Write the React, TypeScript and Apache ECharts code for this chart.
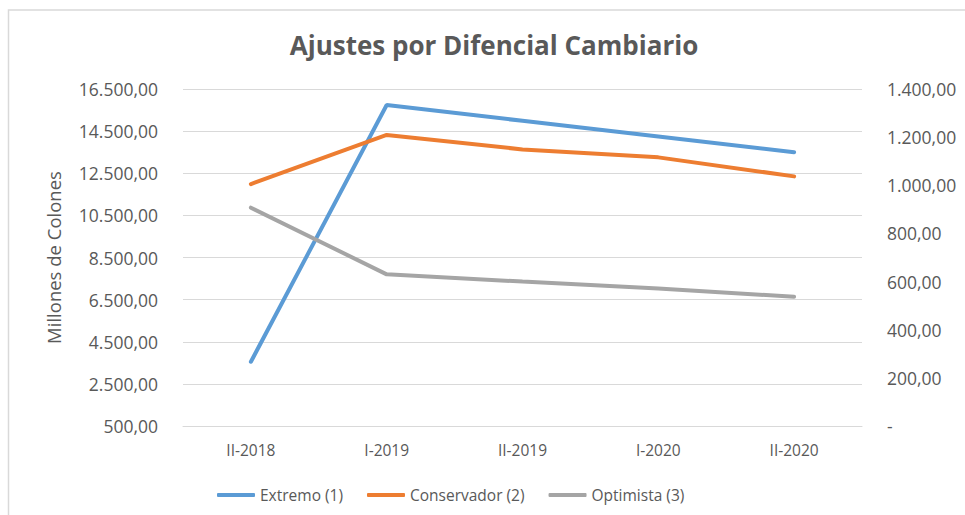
import React, { useEffect, useRef } from "react";
import * as echarts from "echarts";

const categories = ["II-2018", "I-2019", "II-2019", "I-2020", "II-2020"];
const extremo = [3550, 15740, 14990, 14240, 13500];
const conservador = [1005, 1209, 1149, 1116, 1037];
const optimista = [907, 630, 600, 571, 537];
const seriesNames = ["Extremo (1)", "Conservador (2)", "Optimista (3)"];
const colors = ["#5B9BD5", "#ED7D31", "#A5A5A5"];

const FONT = "'Open Sans', sans-serif";
const TXT = "#595959";

function fmt(v: number): string {
  if (v === 0) return "-";
  const s = Math.round(v).toString();
  const withDots = s.replace(/\B(?=(\d{3})+(?!\d))/g, ".");
  return withDots + ",00";
}

export default function App() {
  const ref = useRef<HTMLDivElement>(null);
  useEffect(() => {
    if (!ref.current) return;
    const chart = echarts.init(ref.current, undefined, { renderer: "svg" });
    chart.setOption({
      animation: false,
      backgroundColor: "#ffffff",
      graphic: [
        {
          type: "polyline",
          shape: { points: [[8.5, 515], [8.5, 10], [965, 10]] },
          style: { stroke: "#D9D9D9", lineWidth: 1.5, fill: "none" },
          silent: true,
        },
        {
          type: "text",
          x: 494,
          y: 45,
          style: {
            text: "Ajustes por Difencial Cambiario",
            fill: TXT,
            font: `bold 26px ${FONT}`,
            textAlign: "center",
            textVerticalAlign: "middle",
          },
        },
      ],
      legend: {
        left: 212,
        top: 482,
        icon: "roundRect",
        itemWidth: 38,
        itemHeight: 4,
        itemGap: 24,
        data: seriesNames,
        textStyle: { color: TXT, fontFamily: FONT, fontSize: 15.5 },
      },
      grid: { left: 183, right: 103, top: 89, bottom: 89 },
      xAxis: {
        type: "category",
        data: categories,
        boundaryGap: true,
        axisLine: { lineStyle: { color: "#D9D9D9", width: 1 } },
        axisTick: { show: false },
        axisLabel: { color: TXT, fontFamily: FONT, fontSize: 15.5, margin: 16 },
      },
      yAxis: [
        {
          type: "value",
          min: 500,
          max: 16500,
          interval: 2000,
          name: "Millones de Colones",
          nameLocation: "middle",
          nameGap: 120,
          nameTextStyle: { color: TXT, fontFamily: FONT, fontSize: 18.5 },
          axisLine: { show: false },
          axisTick: { show: false },
          splitLine: { lineStyle: { color: "#D9D9D9", width: 1 } },
          axisLabel: { color: TXT, fontFamily: FONT, fontSize: 17.5, margin: 25, formatter: fmt },
        },
        {
          type: "value",
          min: 0,
          max: 1400,
          interval: 200,
          position: "right",
          axisLine: { show: false },
          axisTick: { show: false },
          splitLine: { show: false },
          axisLabel: { color: TXT, fontFamily: FONT, fontSize: 17.5, margin: 25, formatter: fmt },
        },
      ],
      series: [
        {
          name: seriesNames[0],
          type: "line",
          yAxisIndex: 0,
          data: extremo,
          symbol: "none",
          lineStyle: { width: 4, color: colors[0], cap: "round" },
          itemStyle: { color: colors[0] },
        },
        {
          name: seriesNames[1],
          type: "line",
          yAxisIndex: 1,
          data: conservador,
          symbol: "none",
          lineStyle: { width: 4, color: colors[1], cap: "round" },
          itemStyle: { color: colors[1] },
        },
        {
          name: seriesNames[2],
          type: "line",
          yAxisIndex: 1,
          data: optimista,
          symbol: "none",
          lineStyle: { width: 4, color: colors[2], cap: "round" },
          itemStyle: { color: colors[2] },
        },
      ],
    });
    return () => chart.dispose();
  }, []);
  return (
    <div
      ref={ref}
      style={{ position: "absolute", left: 0, top: 0, width: 965, height: 515 }}
    />
  );
}
